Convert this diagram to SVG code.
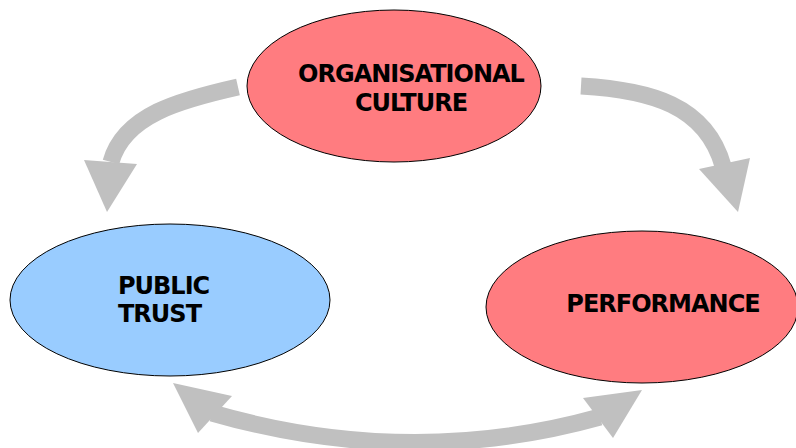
<svg xmlns="http://www.w3.org/2000/svg" width="796" height="448" viewBox="0 0 796 448">
<style>
.shaft{fill:none;stroke:#c0c0c0;stroke-width:17}
.head{fill:#c0c0c0}
.red{fill:#ff7c80;stroke:#000;stroke-width:1}
.blue{fill:#99ccff;stroke:#000;stroke-width:1}
.lbl{font-family:"DejaVu Sans",Verdana,sans-serif;font-weight:bold;font-size:24px;letter-spacing:-1px;fill:#000}
</style>
<rect width="796" height="448" fill="#fff"/>
<g id="connectors">
<path class="shaft" d="M238,87 C180,100 124,115 111,162"/>
<polygon class="head" points="84,160 137,164 107,212"/>
<path class="shaft" d="M581,86 C650,90 706,105 723,166"/>
<polygon class="head" points="699,169 750,158 738,212"/>
<path class="shaft" d="M212,413 Q410,470 600,417"/>
<polygon class="head" points="173,383 232,396 198,433"/>
<polygon class="head" points="642,390 583,398 613,438"/>
</g>
<g id="node-culture">
<ellipse class="red" cx="394" cy="86" rx="147" ry="76"/>
<text class="lbl" x="411" y="82" text-anchor="middle">ORGANISATIONAL</text>
<text class="lbl" x="411" y="111" text-anchor="middle">CULTURE</text>
</g>
<g id="node-trust">
<ellipse class="blue" cx="170" cy="300" rx="160" ry="76"/>
<text class="lbl" x="118" y="294">PUBLIC</text>
<text class="lbl" x="118" y="322">TRUST</text>
</g>
<g id="node-performance">
<ellipse class="red" cx="642" cy="307" rx="156" ry="76"/>
<text class="lbl" x="663" y="312" text-anchor="middle">PERFORMANCE</text>
</g>
</svg>
